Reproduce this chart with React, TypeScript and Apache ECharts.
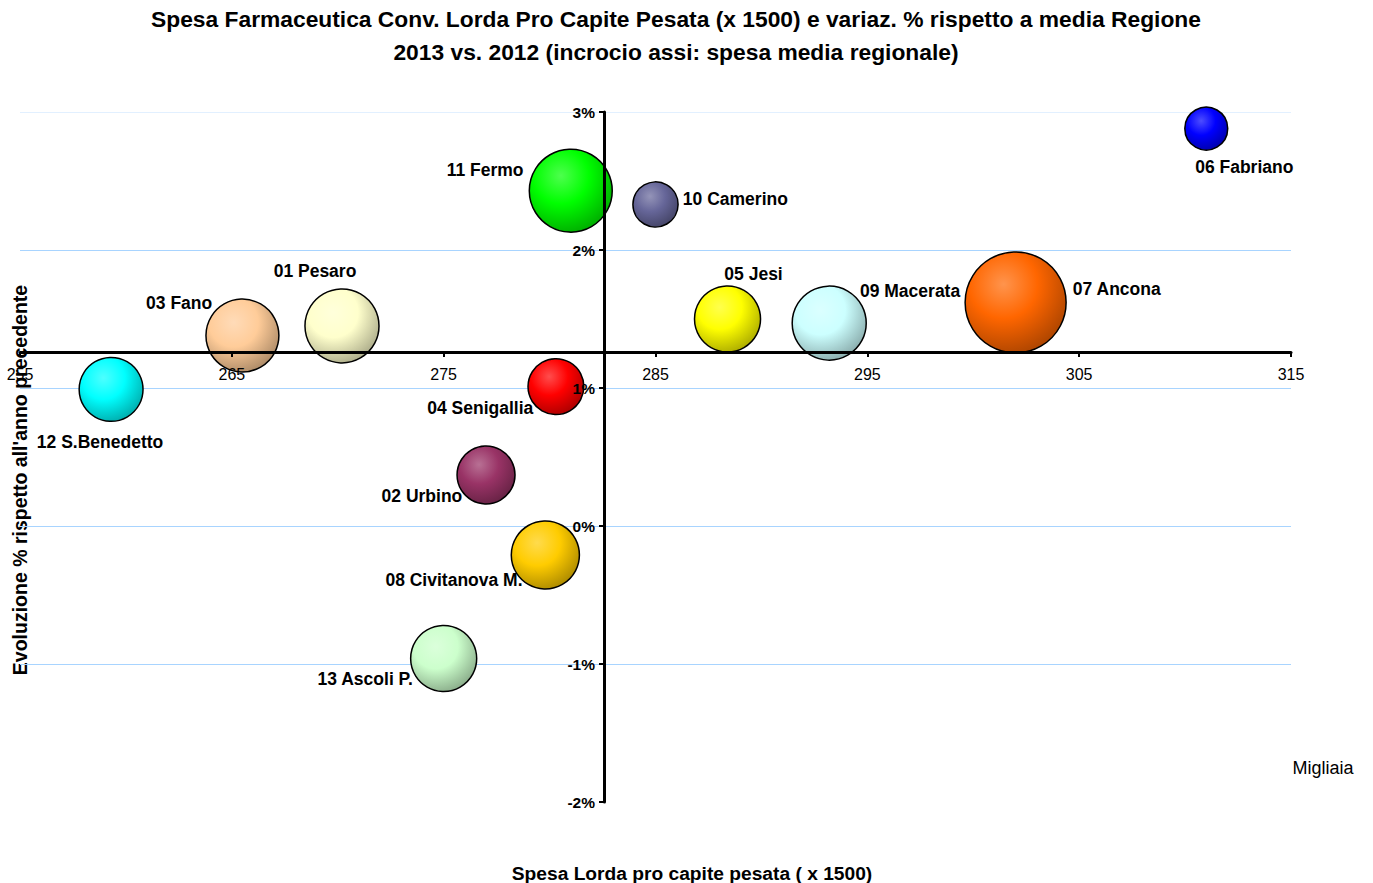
import React, { useEffect, useRef } from "react";
import * as echarts from "echarts";

// ---- Data ----
const districts = [
  "01 Pesaro",
  "02 Urbino",
  "03 Fano",
  "04 Senigallia",
  "05 Jesi",
  "06 Fabriano",
  "07 Ancona",
  "08 Civitanova M.",
  "09 Macerata",
  "10 Camerino",
  "11 Fermo",
  "12 S.Benedetto",
  "13 Ascoli P.",
];
// Spesa lorda pro capite pesata (x 1500)
const spesa = [270.2, 277.0, 265.5, 280.3, 288.4, 311.0, 302.0, 279.8, 293.2, 285.0, 281.0, 259.3, 275.0];
// Variazione % 2013 vs 2012
const variazione = [1.45, 0.37, 1.38, 1.01, 1.5, 2.88, 1.62, -0.21, 1.47, 2.33, 2.43, 0.99, -0.96];
// Bubble size (popolazione, migliaia)
const popolazione = [137, 84, 133, 78, 109, 46, 255, 116, 137, 51, 172, 102, 109];
// Axis crossing point (medie regionali)
const mediaSpesa = 282.57;
const mediaVariazione = 1.26;
// Axis ranges
const xMin = 255;
const xMax = 315;
const xStep = 10;
const yMin = -2;
const yMax = 3;
const yStep = 1;

// ---- Styles ----
const colors = [
  "#FFFFCC",
  "#993366",
  "#FFCC99",
  "#FF0000",
  "#FFFF00",
  "#0000FF",
  "#FF6600",
  "#FFCC00",
  "#CCFFFF",
  "#666699",
  "#00FF00",
  "#00FFFF",
  "#CCFFCC",
];
const labelPlacement: { position: string; offset: number[] }[] = [
  { position: "top", offset: [-27, -3] },
  { position: "left", offset: [11, 21] },
  { position: "left", offset: [12, -33] },
  { position: "left", offset: [11, 21] },
  { position: "top", offset: [26, 3] },
  { position: "bottom", offset: [38, 2] },
  { position: "right", offset: [1, -13] },
  { position: "left", offset: [17, 25] },
  { position: "right", offset: [-12, -32] },
  { position: "right", offset: [-1, -5] },
  { position: "left", offset: [0, -21] },
  { position: "bottom", offset: [-11, 6] },
  { position: "left", offset: [8, 21] },
];
const gridLineColors = ["rgba(0,0,0,0)", "#A8D4FF", "#A8D4FF", "#A8D4FF", "#A8D4FF", "#E2F0FF"];

const FONT = "'Liberation Sans', Arial, sans-serif";
const GRID = { left: 20, right: 82, top: 112, bottom: 81 };
const W = 1373;
const H = 883;

function hexToRgb(h: string) {
  const n = parseInt(h.slice(1), 16);
  return [(n >> 16) & 255, (n >> 8) & 255, n & 255];
}
function mix(h: string, target: number, t: number) {
  const c = hexToRgb(h).map((v) => Math.round(v + (target - v) * t));
  return `rgb(${c[0]},${c[1]},${c[2]})`;
}
function sphere(h: string) {
  return {
    type: "radial",
    x: 0.38,
    y: 0.32,
    r: 0.75,
    colorStops: [
      { offset: 0, color: mix(h, 255, 0.3) },
      { offset: 0.45, color: h },
      { offset: 1, color: mix(h, 0, 0.35) },
    ],
  };
}

export default function App() {
  const ref = useRef<HTMLDivElement>(null);
  useEffect(() => {
    if (!ref.current) return;
    const chart = echarts.init(ref.current, null, { renderer: "svg" });
    const data = districts.map((name, i) => ({
      name,
      value: [spesa[i], variazione[i], popolazione[i]],
      itemStyle: { color: sphere(colors[i]) },
      label: {
        show: true,
        position: labelPlacement[i].position,
        offset: labelPlacement[i].offset,
        distance: 5,
      },
    }));
    const axisLineStyle = { color: "#000", width: 3 };
    const titleStyle = (text: string, size: number, bold = true) => ({
      text,
      align: "center",
      verticalAlign: "middle",
      fontSize: size,
      fontWeight: bold ? "bold" : "normal",
      fontFamily: FONT,
      fill: "#000",
    });
    chart.setOption({
      animation: false,
      backgroundColor: "#fff",
      grid: { ...GRID, outerBoundsMode: "none" },
      xAxis: [
        {
          type: "value",
          min: xMin,
          max: xMax,
          interval: xStep,
          z: 5,
          position: "bottom",
          axisLine: { show: true, onZero: false, lineStyle: axisLineStyle },
          axisTick: { show: true, length: 5, lineStyle: { color: "#000", width: 2 } },
          axisLabel: { color: "#000", fontSize: 16, fontFamily: FONT, margin: 14 },
          splitLine: { show: false },
        },
      ],
      yAxis: [
        {
          type: "value",
          min: yMin,
          max: yMax,
          interval: yStep,
          z: 5,
          position: "left",
          axisLine: { show: true, onZero: false, lineStyle: axisLineStyle },
          axisTick: { show: true, length: 5, lineStyle: { color: "#000", width: 2 } },
          axisLabel: {
            color: "#000",
            fontSize: 15.5,
            fontWeight: "bold",
            fontFamily: FONT,
            margin: 9,
            formatter: "{value}%",
          },
          splitLine: { show: false },
        },
        {
          type: "value",
          min: yMin,
          max: yMax,
          interval: yStep,
          z: 0,
          position: "left",
          axisLine: { show: false },
          axisTick: { show: false },
          axisLabel: { show: false },
          splitLine: { show: true, lineStyle: { color: gridLineColors, width: 1 } },
        },
      ],
      series: [
        {
          type: "scatter",
          xAxisIndex: 0,
          yAxisIndex: 0,
          z: 2,
          symbolSize: (v: number[]) => Math.sqrt(v[2] * 40),
          itemStyle: { borderColor: "#000", borderWidth: 1.5, opacity: 1 },
          label: {
            show: true,
            formatter: "{b}",
            color: "#000",
            fontSize: 17.5,
            fontWeight: "bold",
            fontFamily: FONT,
          },
          emphasis: { disabled: true },
          data,
        },
      ],
      graphic: [
        {
          type: "text",
          x: 676,
          y: 19,
          style: titleStyle(
            "Spesa Farmaceutica Conv. Lorda Pro Capite Pesata (x 1500) e variaz. % rispetto a media Regione",
            22.8
          ),
        },
        {
          type: "text",
          x: 676,
          y: 52,
          style: titleStyle("2013 vs. 2012 (incrocio assi: spesa media regionale)", 22.8),
        },
        {
          type: "text",
          x: 20,
          y: 480,
          rotation: Math.PI / 2,
          style: titleStyle("Evoluzione % rispetto all'anno precedente", 19.5),
        },
        {
          type: "text",
          x: 692,
          y: 873,
          style: titleStyle("Spesa Lorda pro capite pesata ( x 1500)", 19.2),
        },
        {
          type: "text",
          x: 1323,
          y: 768,
          style: titleStyle("Migliaia", 18, false),
        },
      ],
    });
    // Move the axes so that they cross at the regional averages
    const py = chart.convertToPixel({ yAxisIndex: 0 }, mediaVariazione) as number;
    const px = chart.convertToPixel({ xAxisIndex: 0 }, mediaSpesa) as number;
    chart.setOption({
      xAxis: [{ offset: py - (H - GRID.bottom) }],
      yAxis: [{ offset: GRID.left - px }, {}],
    });
    return () => chart.dispose();
  }, []);
  return (
    <div
      ref={ref}
      style={{ position: "absolute", left: 0, top: 0, width: W, height: H }}
    />
  );
}
